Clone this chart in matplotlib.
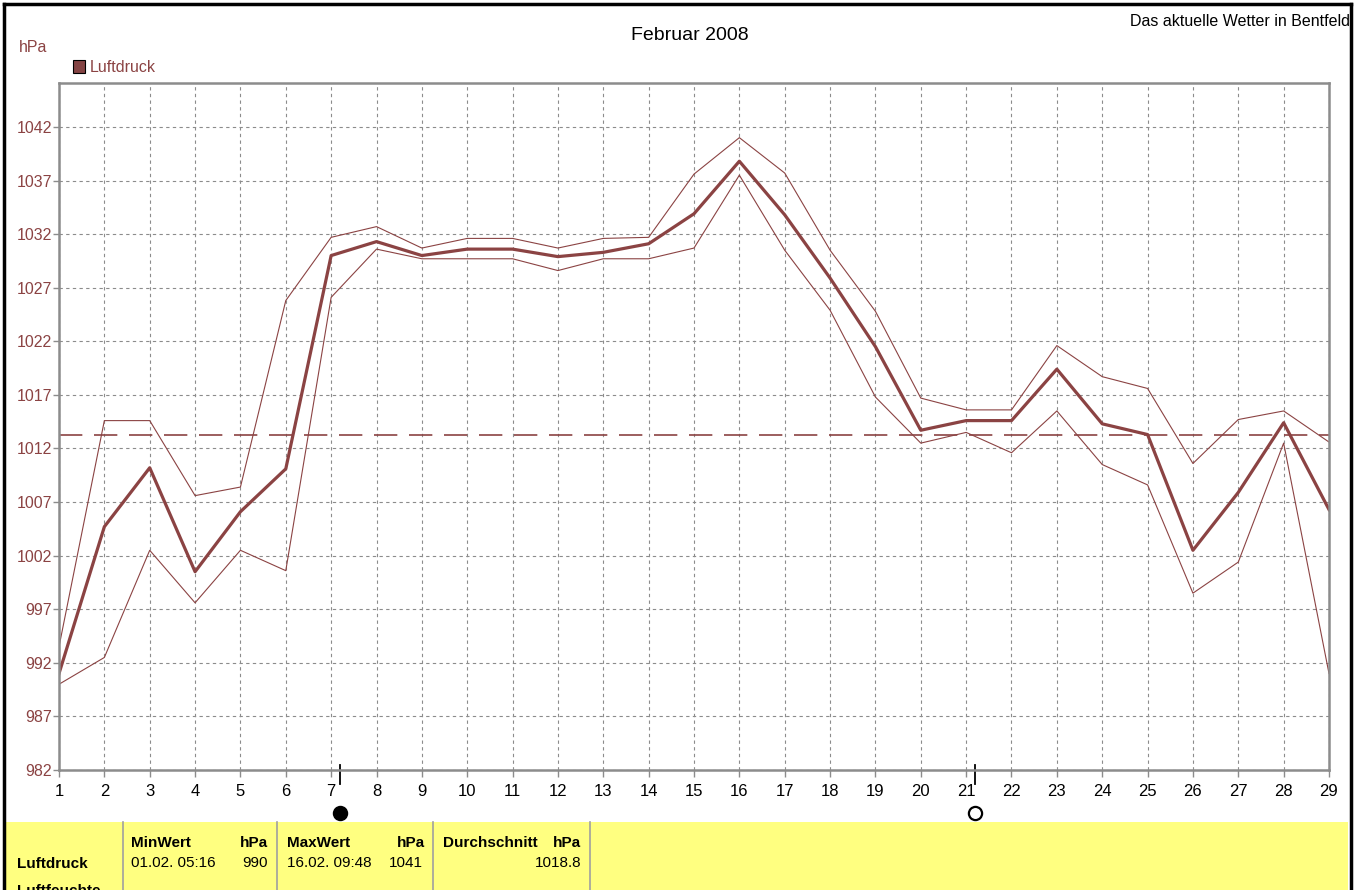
import numpy as np
import matplotlib
matplotlib.use("Agg")
import matplotlib.pyplot as plt
from matplotlib.patches import Rectangle
from matplotlib.lines import Line2D
import matplotlib.transforms as mtransforms

plt.rcParams['font.family'] = ['Liberation Sans Narrow', 'Liberation Sans', 'DejaVu Sans']

days = list(range(1, 30))
# daily mean, max and min air pressure (hPa)
mittel = [991.0, 1004.7, 1010.2, 1000.5, 1006.1, 1010.1, 1030.0, 1031.3, 1030.0, 1030.6,
          1030.6, 1029.9, 1030.3, 1031.1, 1033.9, 1038.8, 1033.8, 1027.9, 1021.5, 1013.7,
          1014.6, 1014.6, 1019.4, 1014.3, 1013.3, 1002.5, 1007.9, 1014.4, 1006.3]
maximum = [993.5, 1014.6, 1014.6, 1007.6, 1008.4, 1025.8, 1031.7, 1032.7, 1030.7, 1031.6,
           1031.6, 1030.7, 1031.6, 1031.7, 1037.6, 1041.0, 1037.7, 1030.5, 1024.8, 1016.7,
           1015.6, 1015.6, 1021.6, 1018.7, 1017.6, 1010.6, 1014.7, 1015.5, 1012.6]
minimum = [990.0, 992.5, 1002.5, 997.6, 1002.5, 1000.6, 1026.1, 1030.6, 1029.7, 1029.7,
           1029.7, 1028.6, 1029.7, 1029.7, 1030.7, 1037.5, 1030.5, 1024.9, 1016.8, 1012.5,
           1013.5, 1011.6, 1015.5, 1010.5, 1008.6, 998.5, 1001.4, 1012.5, 991.0]
normaldruck = 1013.25
yticks = list(range(982, 1043, 5))
neumond = 7.2
vollmond = 21.2

W, H = 1368, 890
brown = '#8B4343'

def fx(x):
    return x / W

def fy(y):
    return 1 - y / H

fig = plt.figure(figsize=(W / 100, H / 100), dpi=100)
fig.patch.set_facecolor('white')

ax = fig.add_axes([fx(59), fy(770), fx(1329) - fx(59), fy(83) - fy(770)])
ax.set_xlim(1, 29)
ax.set_ylim(982, 1046.1)

ax.plot(days, maximum, color=brown, lw=0.8)
ax.plot(days, minimum, color=brown, lw=0.8)
ax.plot(days, mittel, color=brown, lw=2.3)
ax.axhline(normaldruck, color=brown, lw=1.2, dashes=(14, 7))

ax.set_xticks(days)
ax.set_yticks(yticks)
ax.grid(True, color='#8c8c8c', lw=0.8, dashes=(3, 3))
for s in ax.spines.values():
    s.set_color('#8c8c8c')
    s.set_linewidth(1.8)
ax.tick_params(axis='x', colors='#8c8c8c', labelcolor='black', length=5, width=1,
               labelsize=12, pad=5)
ax.tick_params(axis='y', colors='#8c8c8c', labelcolor=brown, length=4, width=1,
               labelsize=11.5, pad=1)

# moon phases below the axis
trans = mtransforms.blended_transform_factory(ax.transData, ax.transAxes)
for xm, filled in [(neumond, True), (vollmond, False)]:
    ax.add_line(Line2D([xm, xm], [0.008, -0.021], transform=trans, color='black',
                       lw=1.3, clip_on=False))
    ax.plot([xm], [-0.063], transform=trans, marker='o', markersize=9.5,
            markerfacecolor='black' if filled else 'white', markeredgecolor='black',
            markeredgewidth=1.6, clip_on=False)

# titles
fig.text(fx(690), fy(35), 'Februar 2008', ha='center', va='center', fontsize=14)
fig.text(fx(1350), fy(22), 'Das aktuelle Wetter in Bentfeld', ha='right', va='center',
         fontsize=11.5)
fig.text(fx(19), fy(47), 'hPa', ha='left', va='center', fontsize=11.5, color=brown)
fig.patches.append(Rectangle((fx(73), fy(73)), fx(12), fy(60) - fy(73), transform=fig.transFigure,
                             facecolor='#844444', edgecolor='black', lw=0.8))
fig.text(fx(90), fy(67), 'Luftdruck', ha='left', va='center', fontsize=11.5, color=brown)

# table at the bottom
fig.patches.append(Rectangle((fx(6), 0), fx(1348) - fx(6), fy(822), transform=fig.transFigure,
                             facecolor='#FFFF80', edgecolor='none', zorder=0))
for xs in [123, 277, 433, 590]:
    fig.add_artist(Line2D([fx(xs), fx(xs)], [0, fy(822)], color='#a0a0a0', lw=1.2))

bold = dict(fontsize=11, fontweight='bold', va='center')
norm = dict(fontsize=11, va='center')
fig.text(fx(131), fy(843), 'MinWert', ha='left', **bold)
fig.text(fx(268), fy(843), 'hPa', ha='right', **bold)
fig.text(fx(287), fy(843), 'MaxWert', ha='left', **bold)
fig.text(fx(425), fy(843), 'hPa', ha='right', **bold)
fig.text(fx(443), fy(843), 'Durchschnitt', ha='left', **bold)
fig.text(fx(581), fy(843), 'hPa', ha='right', **bold)
fig.text(fx(17), fy(864), 'Luftdruck', ha='left', **bold)
fig.text(fx(131), fy(863), '01.02. 05:16', ha='left', **norm)
fig.text(fx(268), fy(863), '990', ha='right', **norm)
fig.text(fx(287), fy(863), '16.02. 09:48', ha='left', **norm)
fig.text(fx(423), fy(863), '1041', ha='right', **norm)
fig.text(fx(581), fy(863), '1018.8', ha='right', **norm)
fig.text(fx(17), fy(891), 'Luftfeuchte', ha='left', **bold)

# outer black frame
for xs, ys in [([fx(4), fx(4)], [0, fy(4)]), ([fx(4), fx(1351)], [fy(4), fy(4)]),
               ([fx(1351), fx(1351)], [0, fy(4)])]:
    fig.add_artist(Line2D(xs, ys, color='black', lw=2.5))

fig.savefig('out.png', dpi=100)
